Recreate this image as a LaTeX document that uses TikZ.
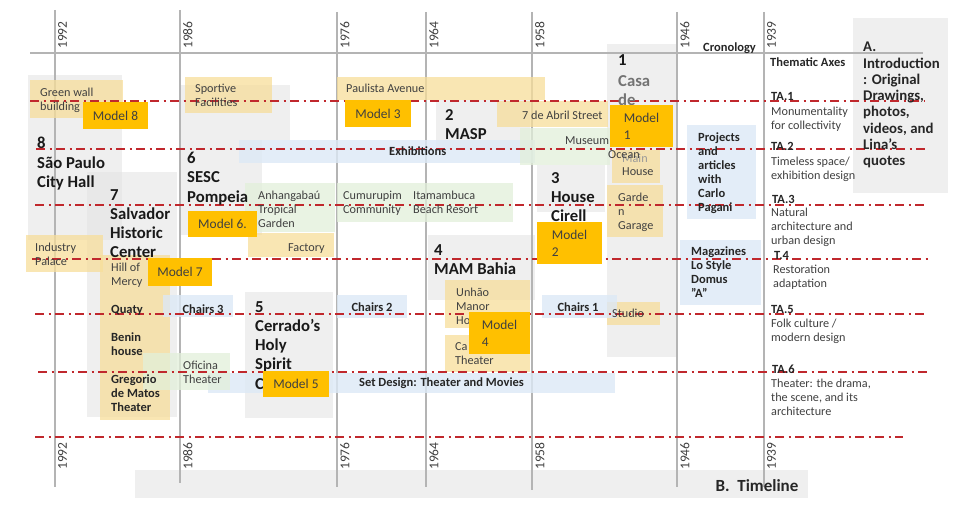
\documentclass[tikz,border=0pt]{standalone}
\usepackage{fontspec}
\setmainfont{Carlito}
\definecolor{axisgrey}{HTML}{B4B4B4}
\definecolor{boxgrey}{HTML}{E4E4E4}
\definecolor{boxyellow}{HTML}{F7DE9A}
\definecolor{boxblue}{HTML}{DCE9F6}
\definecolor{boxgreen}{HTML}{E2EFDA}
\definecolor{modelgold}{HTML}{FFC000}
\definecolor{axisred}{HTML}{C0282D}
\definecolor{inkgrey}{HTML}{404040}
\begin{document}
\begin{tikzpicture}[x=1pt,y=-1pt,
    gbox/.style={fill=boxgrey,opacity=0.6}, ybox/.style={fill=boxyellow,opacity=0.75},
    bbox/.style={fill=boxblue,opacity=0.8}, lbox/.style={fill=boxgreen,opacity=0.75},
    yr/.style={draw=axisgrey,line width=1.5pt},
    ta/.style={draw=axisred,line width=2.2pt,dash pattern=on 9pt off 4.5pt on 2pt off 4.5pt},
    year/.style={rotate=90,anchor=north west,inner sep=1pt,font=\fontsize{13.5}{14}\selectfont,text=inkgrey},
    lab/.style={anchor=north west,inner sep=0pt,align=left,font=\fontsize{12.2}{14}\selectfont,text=inkgrey},
    sb/.style={anchor=north west,inner sep=0pt,align=left,font=\fontsize{12.5}{14}\selectfont\bfseries,text=black!85},
    ttl/.style={anchor=north west,inner sep=0pt,align=left,font=\fontsize{16.7}{19.3}\selectfont\bfseries,text=black!90},
    model/.style={fill=modelgold,align=left,inner sep=0pt,font=\fontsize{13.4}{17}\selectfont,text=inkgrey}]
  \useasboundingbox (0,0) rectangle (960,513);
  \fill[gbox] (28,75) rectangle (122,240); \fill[gbox] (87,172) rectangle (177,417);
  \fill[gbox] (180,85) rectangle (290,140); \fill[gbox] (180,140) rectangle (262,235);
  \fill[gbox] (245,292) rectangle (333,418); \fill[gbox] (428,235) rectangle (535,300);
  \fill[gbox] (436,100) rectangle (530,150); \fill[gbox] (537,165) rectangle (605,212);
  \fill[gbox] (607,44) rectangle (677,357); \fill[gbox] (853,18) rectangle (948,193);
  \fill[gbox] (135,470) rectangle (808,498);
  \draw[yr] (30,53) -- (923,53);
  \draw[yr] (55,10) -- (55,487); \draw[yr] (180,10) -- (180,483); \draw[yr] (337,12) -- (337,487);
  \draw[yr] (426,12) -- (426,487); \draw[yr] (532,12) -- (532,490); \draw[yr] (677,12) -- (677,487);
  \draw[yr] (764,12) -- (764,487);
  \node[year] (y1t) at (57,50) {1992}; \node[year] (y2t) at (182,50) {1986}; \node[year] (y3t) at (339,50) {1976};
  \node[year] (y4t) at (428,50) {1964}; \node[year] (y5t) at (534,50) {1958}; \node[year] (y6t) at (679,50) {1946};
  \node[year] (y7t) at (766,50) {1939};
  \node[year] (y1b) at (57,471) {1992}; \node[year] (y2b) at (182,471) {1986}; \node[year] (y3b) at (339,471) {1976};
  \node[year] (y4b) at (428,471) {1964}; \node[year] (y5b) at (534,471) {1958}; \node[year] (y6b) at (679,471) {1946};
  \node[year] (y7b) at (766,471) {1939};
  \fill[ybox] (30,80) rectangle (123,118); \fill[ybox] (185,77) rectangle (272,113);
  \fill[ybox] (337,77) rectangle (545,100); \fill[ybox] (497,101) rectangle (608,127);
  \fill[ybox] (612,150) rectangle (660,183); \fill[ybox] (607,185) rectangle (663,237);
  \fill[ybox] (26,235) rectangle (103,272); \fill[ybox] (100,255) rectangle (170,420);
  \fill[ybox] (248,233) rectangle (334,257); \fill[ybox] (445,280) rectangle (530,328);
  \fill[ybox] (445,335) rectangle (530,372); \fill[ybox] (607,302) rectangle (660,325);
  \fill[bbox] (239,140) rectangle (535,163); \fill[bbox] (687,125) rectangle (756,219);
  \fill[bbox] (680,240) rectangle (761,305); \fill[bbox] (163,295) rectangle (233,317);
  \fill[bbox] (337,295) rectangle (407,318); \fill[bbox] (542,295) rectangle (617,318);
  \fill[bbox] (208,373) rectangle (615,393);
  \fill[lbox] (245,183) rectangle (335,232); \fill[lbox] (337,183) rectangle (410,222);
  \fill[lbox] (410,183) rectangle (513,222); \fill[lbox] (520,128) rectangle (610,165);
  \fill[lbox] (143,353) rectangle (230,390);
  \draw[ta] (30,101) -- (925,101); \draw[ta] (36,149) -- (928,149);
  \draw[ta] (35,205) -- (925,205); \draw[ta] (32,259) -- (928,259);
  \draw[ta] (35,314) -- (925,314); \draw[ta] (38,372) -- (930,372);
  \draw[ta] (35,437) -- (903,437);
  \node[sb] (cro) at (703,43) {Cronology}; \node[sb] (tha) at (770,58) {Thematic Axes};
  \node[sb] (ta1) at (771,92) {TA.1}; \node[lab] (mon) at (771,107) {Monumentality\\for collectivity};
  \node[sb] (ta2) at (771,142) {TA.2}; \node[lab] (tim) at (771,157) {Timeless space/\\exhibition design};
  \node[sb] (ta3) at (772,195) {TA.3}; \node[lab] (nat) at (771,208) {Natural\\architecture and\\urban design};
  \node[sb] (ta4) at (774,251) {T.4}; \node[lab] (res) at (773,265) {Restoration\\adaptation};
  \node[sb] (ta5) at (771,305) {TA.5}; \node[lab] (fol) at (771,319) {Folk culture /\\modern design};
  \node[sb] (ta6) at (772,365) {TA.6}; \node[lab] (thd) at (771,379) {Theater: the drama,\\the scene, and its\\architecture};
  \node[anchor=north west,inner sep=0pt,align=left,font=\fontsize{14.8}{16.3}\selectfont\bfseries,text=black!85] (intro) at (863,42)
    {A.\\Introduction\\: Original\\Drawings,\\photos,\\videos, and\\Lina’s\\quotes};
  \node[font=\fontsize{17}{18}\selectfont\bfseries,text=black!85] (tl) at (757,486) {B.\ \ Timeline};
  \node[ttl] (t8) at (37,137) {8\\São Paulo\\City Hall}; \node[ttl] (t7) at (110,189) {7\\Salvador\\Historic\\Center};
  \node[ttl] (t6) at (187,152) {6\\SESC\\Pompeia}; \node[ttl] (t5) at (255,301) {5\\Cerrado’s\\Holy\\Spirit\\C};
  \node[ttl] (t4) at (434,244) {4\\MAM Bahia}; \node[ttl] (t3) at (551,172) {3\\House\\Cirell};
  \node[ttl] (t2) at (445,109) {2\\MASP}; \node[ttl] (t1) at (618,54) {1};
  \node[ttl,text=black!55] (cas) at (618,75) {Casa\\de};
  \node[lab] (grw) at (40,88) {Green wall\\building}; \node[lab] (spf) at (195,84) {Sportive\\Facilities};
  \node[lab] (pav) at (346,84) {Paulista Avenue}; \node[lab] (abr) at (522,111) {7 de Abril Street};
  \node[lab] (mus) at (565,136) {Museum}; \node[lab,text=black!40] (mai) at (622,154) {Main};
  \node[lab] (oce) at (608,150) {Ocean}; \node[lab] (hou) at (622,167) {House};
  \node[lab] (gar) at (618,193) {Garde\\n\\Garage}; \node[lab] (ind) at (35,243) {Industry\\Palace};
  \node[lab] (hil) at (111,263) {Hill of\\Mercy}; \node[lab] (anh) at (258,191) {Anhangabaú\\Tropical\\Garden};
  \node[lab] (cum) at (343,191) {Cumurupim\\Community}; \node[lab] (ita) at (413,191) {Itamambuca\\Beach Resort};
  \node[lab] (fac) at (288,243) {Factory}; \node[lab] (unh) at (456,288) {Unhão\\Manor\\House};
  \node[lab] (cat) at (455,342) {Ca\\Theater}; \node[lab] (stu) at (612,309) {Studio};
  \node[lab] (ofi) at (183,361) {Oficina\\Theater};
  \node[sb] (exh) at (389,147) {Exhibitions}; \node[sb] (set) at (359,378) {Set Design: Theater and Movies};
  \node[sb,anchor=center] (ch3) at (203,309) {Chairs 3}; \node[sb,anchor=center] (ch2) at (372,307) {Chairs 2};
  \node[sb,anchor=center] (ch1) at (578,307) {Chairs 1};
  \node[sb] (qua) at (111,305) {Quaty}; \node[sb] (ben) at (111,333) {Benin\\house};
  \node[sb] (gre) at (111,375) {Gregorio\\de Matos\\Theater};
  \node[sb] (pro) at (698,133) {Projects\\and\\articles\\with\\Carlo\\Pagani};
  \node[sb] (mag) at (691,247) {Magazines\\Lo Style\\Domus\\"A"};
  \node[model,minimum width=65pt,minimum height=27pt] (m8) at (115.5,115.5) {Model 8};
  \node[model,minimum width=66pt,minimum height=27pt] (m3) at (378,113.5) {Model 3};
  \node[model,minimum width=63pt,minimum height=42pt] (m1) at (641.5,126) {Model\\1};
  \node[model,minimum width=69pt,minimum height=26pt] (m6) at (222.5,224) {Model 6.};
  \node[model,minimum width=64pt,minimum height=28pt] (m7) at (180,272) {Model 7};
  \node[model,minimum width=65pt,minimum height=42pt] (m2) at (569.5,243) {Model\\2};
  \node[model,minimum width=61pt,minimum height=42pt] (m4) at (499.5,333) {Model\\4};
  \node[model,minimum width=66pt,minimum height=26pt] (m5) at (296,384) {Model 5};
\end{tikzpicture}
\end{document}
